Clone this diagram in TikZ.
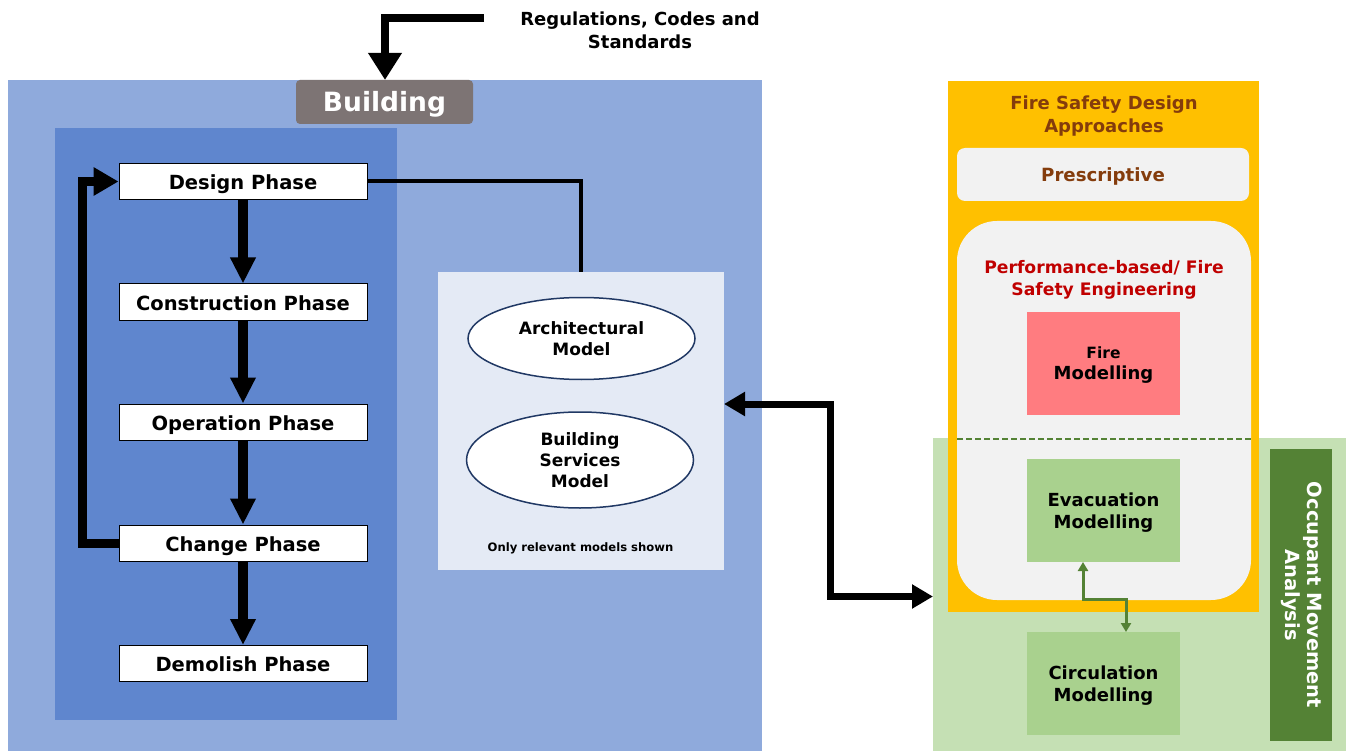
\documentclass[tikz,border=0pt]{standalone}
\usepackage{fontspec}
\setmainfont{DejaVu Sans}
\usetikzlibrary{arrows.meta,shapes.geometric}
\definecolor{bldblue}{HTML}{8FAADC}
\definecolor{darkblue}{HTML}{5F86CE}
\definecolor{modelbg}{HTML}{E4EAF5}
\definecolor{bldlabel}{HTML}{7D7474}
\definecolor{orangebox}{HTML}{FFC000}
\definecolor{greenbox}{HTML}{C5E0B4}
\definecolor{greenmid}{HTML}{A9D18E}
\definecolor{greendark}{HTML}{548235}
\definecolor{brownt}{HTML}{843C0C}
\definecolor{redt}{HTML}{C00000}
\definecolor{salmon}{HTML}{FF7C80}
\definecolor{graybox}{HTML}{F2F2F2}
\definecolor{navy}{HTML}{203864}
\begin{document}
\begin{tikzpicture}[x=1pt,y=-1pt,
  area/.style={rectangle, inner sep=0pt, outer sep=0pt, anchor=north west},
  phasebox/.style={rectangle, draw=black, line width=1pt, fill=white, minimum width=248pt, minimum height=36pt, inner sep=0pt, text height=17pt, text depth=1pt, font=\bfseries\fontsize{19.5}{22}\selectfont},
  modelell/.style={ellipse, draw=navy, line width=1.5pt, fill=white, inner sep=0pt, align=center, font=\bfseries\fontsize{17}{21}\selectfont},
  modbox/.style={rectangle, inner sep=0pt, outer sep=0pt, minimum width=153pt, minimum height=103pt, align=center, font=\bfseries\fontsize{18}{22}\selectfont},
  bigarrow/.style={line width=9pt, -{Triangle[width=27pt,length=25pt]}},
  phasearrow/.style={line width=9.5pt, -{Triangle[width=24pt,length=26pt]}},
  dblarrow/.style={line width=7pt, {Triangle[width=23pt,length=21pt]}-{Triangle[width=23pt,length=21pt]}},
  garrow/.style={line width=3pt, draw=greendark, {Triangle[width=10pt,length=9pt]}-{Triangle[width=10pt,length=9pt]}},
  lbl/.style={align=center, font=\bfseries\fontsize{18}{23}\selectfont}
]
\useasboundingbox (0,0) rectangle (1346,751);
\fill[white] (0,0) rectangle (1346,751);

% building area
\node[area, fill=bldblue, minimum width=754pt, minimum height=671pt] (bld) at (8,80) {};
\node[area, fill=darkblue, minimum width=342pt, minimum height=592pt] (life) at (55,128) {};
\node[area, fill=bldlabel, rounded corners=4pt, minimum width=177pt, minimum height=44pt, text height=22pt, text depth=2pt, text=white, font=\bfseries\fontsize{26.5}{30}\selectfont] (bl) at (296,80) {Building};

\node[lbl] (regs) at (640,30) {Regulations, Codes and\\Standards};
\coordinate (regsrc) at (484,18);
\draw[line width=8pt, -{Triangle[width=32pt,length=27pt]}] (regsrc) -| ([xshift=89pt]bl.north west);

% phases
\node[phasebox] (design) at (243,181.5) {Design Phase};
\node[phasebox] (constr) at (243,302) {Construction Phase};
\node[phasebox] (oper) at (243,422) {Operation Phase};
\node[phasebox] (change) at (243,543) {Change Phase};
\node[phasebox] (demol) at (243,663.5) {Demolish Phase};
\draw[phasearrow] (design) -- (constr);
\draw[phasearrow] (constr) -- (oper);
\draw[phasearrow] (oper) -- (change);
\draw[phasearrow] (change) -- (demol);
\draw[bigarrow] (change.west) -- ++(-36,0) |- (design.west);

% models
\node[area, fill=modelbg, minimum width=286pt, minimum height=298pt] (models) at (438,272) {};
\node[modelell, minimum width=227pt, minimum height=82pt] (arch) at (581.5,338.5) {Architectural\\Model};
\node[modelell, minimum width=227pt, minimum height=96pt] (serv) at (580,460) {Building\\Services\\Model};
\node[font=\bfseries\fontsize{11.6}{14}\selectfont] (only) at (580.5,548) {Only relevant models shown};
\draw[line width=4pt] (design.east) -| (models.north);

% right side
\node[area, fill=greenbox, minimum width=413pt, minimum height=313pt] (green) at (933,438) {};
\node[area, fill=orangebox, minimum width=311pt, minimum height=531pt] (orange) at (948,81) {};
\node[lbl, text=brownt] (fsda) at (1104,116) {Fire Safety Design\\Approaches};
\node[area, fill=graybox, rounded corners=8pt, minimum width=292pt, minimum height=53pt] (presc) at (957,148) {};
\node[text=brownt, font=\bfseries\fontsize{18.2}{22}\selectfont] (presclbl) at ([yshift=-2pt]presc.center) {Prescriptive};
\node[area, fill=graybox, rounded corners=40pt, minimum width=294pt, minimum height=379pt] (perf) at (957,221) {};
\node[text=redt, align=center, font=\bfseries\fontsize{17.2}{22}\selectfont] (perflbl) at (1104,280) {Performance-based/ Fire\\Safety Engineering};
\node[area, modbox, fill=salmon] (fire) at (1027,312) {};
\node[align=center, font=\bfseries\fontsize{18}{21}\selectfont] (firelbl) at ([yshift=-2pt]fire.center) {{\fontsize{15.5}{21}\selectfont Fire}\\Modelling};
\draw[greendark, line width=2pt, dash pattern=on 6pt off 3pt] (perf.west |- 0,439) -- (perf.east |- 0,439);
\node[area, modbox, fill=greenmid] (evac) at (1027,459) {};
\node[modbox] (evaclbl) at ([yshift=-2pt]evac.center) {Evacuation\\Modelling};
\node[area, modbox, fill=greenmid] (circ) at (1027,632) {};
\node[modbox] (circlbl) at ([yshift=-2pt]circ.center) {Circulation\\Modelling};
\draw[garrow] ([xshift=-20.5pt]evac.south) -- ++(0,37) -| ([xshift=22.5pt]circ.north);
\node[area, fill=greendark, minimum width=62pt, minimum height=292pt] (occ) at (1270,449) {};
\node[rotate=-90, text=white, align=center, font=\bfseries\fontsize{19.5}{22}\selectfont] (occlbl) at ([xshift=1pt]occ.center) {Occupant Movement\\Analysis};

% link models <-> fire safety
\draw[dblarrow] ([yshift=17pt]models.east) -- ++(106,0) |- ([yshift=-2pt]green.west);
\end{tikzpicture}
\end{document}
